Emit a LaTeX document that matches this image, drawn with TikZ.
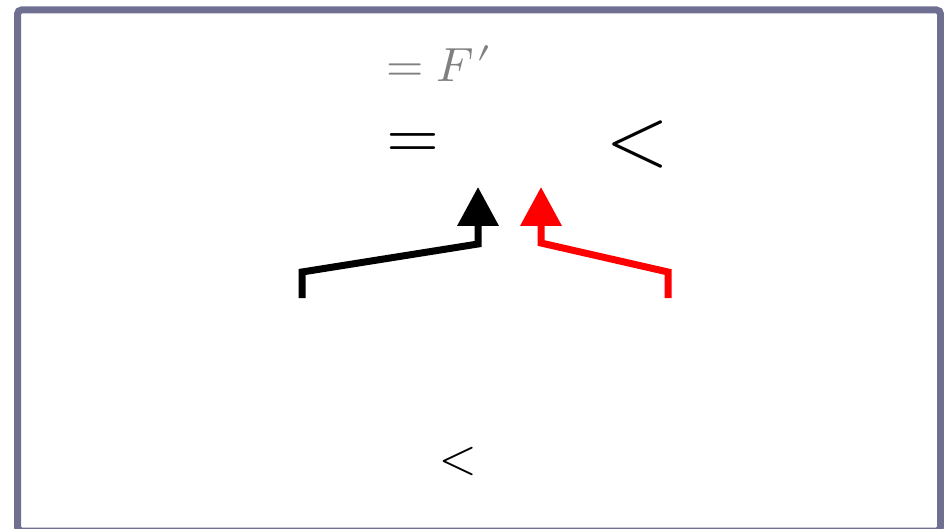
\documentclass[tikz,border=0pt]{standalone}
\usepackage{unicode-math}
\setmathfont{Latin Modern Math}
\usetikzlibrary{arrows.meta}
\definecolor{framegray}{HTML}{6F7091}
\tikzset{
  pointer/.style={line width=7pt, miter limit=10,
    -{Triangle[length=39pt,width=40pt]}},
  sym/.style={inner sep=0pt},
}
\begin{document}
\begin{tikzpicture}[x=1pt, y=-1pt]
  \useasboundingbox (0,0) rectangle (944,529);
  % frame
  \draw[framegray, line width=7pt, rounded corners=4pt] (17.5,10) rectangle (940.5,531);
  % symbols
  \node[sym, text=gray] (top) at (439,64) {\fontsize{48}{52}\selectfont $=F\mkern1mu{\prime}$};
  \node[sym] (eq) at (413,146) {\fontsize{68}{72}\selectfont $=$};
  \node[sym] (lt) at (638,145) {\fontsize{80}{84}\selectfont $<$};
  \node[sym] (ltlow) at (458,461) {\fontsize{48}{52}\selectfont $<$};
  % arrow targets
  \coordinate (tipL) at (478,187);
  \coordinate (tipR) at (541,187);
  \coordinate (footL) at (302,298);
  \coordinate (footR) at (668,298);
  \draw[pointer] (footL) -- (302,272) -- (478,244) -- (tipL);
  \draw[pointer, red] (footR) -- (668,272) -- (541,243) -- (tipR);
\end{tikzpicture}
\end{document}
